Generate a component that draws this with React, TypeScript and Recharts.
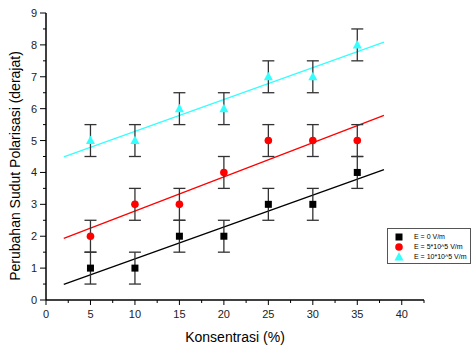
import React from "react";
import {
  ComposedChart, Scatter, Line, XAxis, YAxis, ErrorBar,
} from "recharts";

const konsentrasi = [5, 10, 15, 20, 25, 30, 35];
const sudutE0 = [1, 1, 2, 2, 3, 3, 4];
const sudutE5 = [2, 3, 3, 4, 5, 5, 5];
const sudutE10 = [5, 5, 6, 6, 7, 7, 8];
const galat = [0.5, 0.5, 0.5, 0.5, 0.5, 0.5, 0.5];

// fitted line endpoints
const fitX = [2, 38];
const fitE0 = [0.49, 4.09];
const fitE5 = [1.93, 5.79];
const fitE10 = [4.49, 8.09];

const xTicks = [0, 2.5, 5, 7.5, 10, 12.5, 15, 17.5, 20, 22.5, 25, 27.5, 30, 32.5, 35, 37.5, 40, 42.5];
const yTicks = [0, 0.5, 1, 1.5, 2, 2.5, 3, 3.5, 4, 4.5, 5, 5.5, 6, 6.5, 7, 7.5, 8, 8.5, 9];

const seriesNames = ["E = 0 V/m", "E = 5*10^5 V/m", "E = 10*10^5 V/m"];
const colors = ["#000000", "#ff0000", "#33ffff"];

const pts = (ys: number[]) => konsentrasi.map((x, i) => ({ x, y: ys[i], err: galat[i] }));
const fit = (ys: number[]) => fitX.map((x, i) => ({ x, y: ys[i] }));

const font = "'Liberation Sans', Arial, sans-serif";

function Marker({ kind, cx, cy, color }: { kind: number; cx: number; cy: number; color: string }) {
  if (kind === 0) return <rect x={cx - 3.5} y={cy - 3.5} width={7} height={7} fill={color} />;
  if (kind === 1) return <circle cx={cx} cy={cy} r={3.8} fill={color} />;
  return <polygon points={`${cx},${cy - 5} ${cx - 4.5},${cy + 3.5} ${cx + 4.5},${cy + 3.5}`} fill={color} />;
}

const XTick = (props: any) => {
  const { x, y, payload } = props;
  const major = payload.value % 5 === 0;
  return (
    <g>
      <line x1={x} x2={x} y1={y} y2={y + (major ? 5 : 3)} stroke="#000" strokeWidth={1} />
      {major && payload.value <= 40 && (
        <text x={x} y={y + 18} textAnchor="middle" fontSize={11} fontFamily={font} fill="#222">
          {payload.value}
        </text>
      )}
    </g>
  );
};

const YTick = (props: any) => {
  const { x, y, payload } = props;
  const major = payload.value % 1 === 0;
  return (
    <g>
      <line x1={x} x2={x - (major ? 6 : 3)} y1={y} y2={y} stroke="#000" strokeWidth={1} />
      {major && (
        <text x={x - 9} y={y + 4} textAnchor="end" fontSize={11} fontFamily={font} fill="#222">
          {payload.value}
        </text>
      )}
    </g>
  );
};

const LegendBox = () => (
  <div
    style={{
      position: "absolute",
      left: 387,
      top: 228,
      border: "1px solid #555",
      background: "#fff",
      width: 84,
      height: 36,
      padding: "3px 0 0 6px",
      boxSizing: "border-box",
      fontFamily: font,
      fontSize: 7,
      lineHeight: "10px",
      color: "#000",
    }}
  >
    {seriesNames.map((n, i) => (
      <div key={n} style={{ display: "flex", alignItems: "center", height: 10 }}>
        <svg width={12} height={10}>
          <Marker kind={i} cx={5} cy={5} color={colors[i]} />
        </svg>
        <span style={{ marginLeft: 8 }}>{n}</span>
      </div>
    ))}
  </div>
);

export default function App() {
  const all = [sudutE0, sudutE5, sudutE10];
  const fits = [fitE0, fitE5, fitE10];
  return (
    <div style={{ position: "absolute", left: 0, top: 0, width: 471, height: 347, background: "#fff" }}>
      <ComposedChart width={471} height={347} margin={{ top: 13, right: 47, bottom: 27, left: 0 }}>
        <XAxis
          type="number"
          dataKey="x"
          domain={[0, 42.5]}
          ticks={xTicks}
          interval={0}
          tickSize={0}
          tickMargin={0}
          tick={<XTick />}
          height={20}
          axisLine={{ stroke: "#000", strokeWidth: 1.5 }}
          allowDuplicatedCategory={false}
        />
        <YAxis
          type="number"
          dataKey="y"
          domain={[0, 9]}
          ticks={yTicks}
          interval={0}
          tickSize={0}
          tickMargin={0}
          tick={<YTick />}
          width={46}
          axisLine={{ stroke: "#000", strokeWidth: 1.5 }}
        />
        {fits.map((f, i) => (
          <Line
            key={"fit" + i}
            data={fit(f)}
            dataKey="y"
            type="linear"
            stroke={colors[i]}
            strokeWidth={1.3}
            dot={false}
            activeDot={false}
            isAnimationActive={false}
            legendType="none"
          />
        ))}
        {all.map((s, i) => (
          <Scatter
            key={"pts" + i}
            name={seriesNames[i]}
            data={pts(s)}
            dataKey="y"
            fill={colors[i]}
            isAnimationActive={false}
            shape={(p: any) => <Marker kind={i} cx={p.cx} cy={p.cy} color={colors[i]} />}
          >
            <ErrorBar dataKey="err" direction="y" width={6} stroke="#333" strokeWidth={1.3} isAnimationActive={false} />
          </Scatter>
        ))}
      </ComposedChart>
      <LegendBox />
      <svg width={471} height={347} style={{ position: "absolute", left: 0, top: 0, pointerEvents: "none" }}>
        <text
          x={0}
          y={0}
          transform="translate(20,166) rotate(-90)"
          textAnchor="middle"
          fontSize={14}
          fontFamily={font}
          fill="#000"
        >
          Perubahan Sudut Polarisasi (derajat)
        </text>
        <text x={235} y={342} textAnchor="middle" fontSize={14} fontFamily={font} fill="#000">
          Konsentrasi (%)
        </text>
      </svg>
    </div>
  );
}
